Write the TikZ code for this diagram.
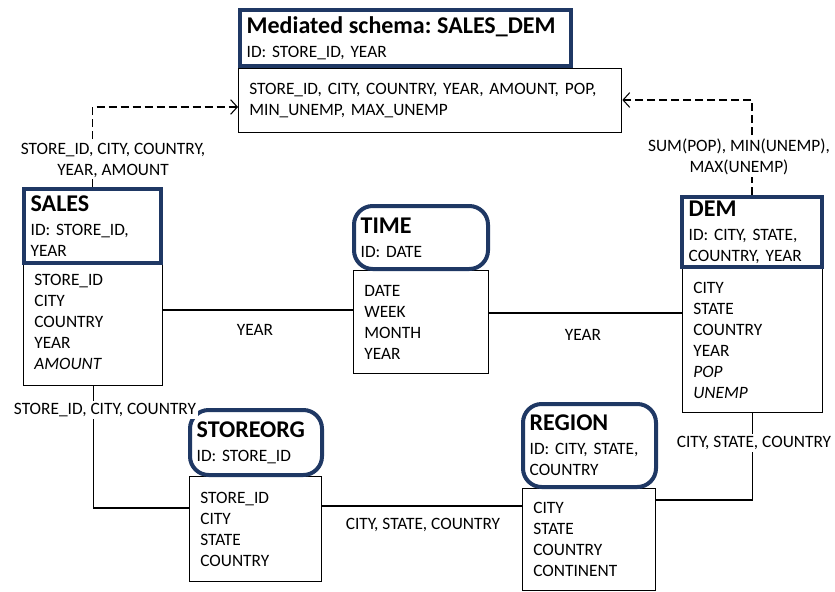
\documentclass[tikz,border=0pt]{standalone}
\usepackage{fontspec}
\setmainfont{Carlito}
\usetikzlibrary{arrows.meta}
\definecolor{hdrblue}{RGB}{31,56,100}
\tikzset{
  hdr/.style={draw=hdrblue, fill=white, line width=3pt, anchor=north west, align=left, inner xsep=5pt, inner ysep=2pt, font=\fontsize{13}{15.75}\selectfont\frenchspacing},
  hdrround/.style={hdr, rounded corners=14pt},
  attrs/.style={draw, line width=1pt, anchor=north west, align=left, inner xsep=8pt, inner ysep=2pt, font=\fontsize{13}{15.75}\selectfont\frenchspacing},
  link/.style={line width=0.8pt},
  mapping/.style={line width=0.8pt, dash pattern=on 6pt off 3pt, -{Straight Barb[length=5pt,width=11pt]}},
  lbl/.style={font=\fontsize{13}{15.75}\selectfont\frenchspacing, align=center, inner sep=1.5pt},
  cutlbl/.style={lbl, fill=white}
}
\newcommand{\tblname}[1]{{\fontsize{18}{20}\selectfont\bfseries #1}}
\begin{document}
\begin{tikzpicture}[x=0.75pt, y=-0.75pt]
\useasboundingbox (0,0) rectangle (835,592);

\node[attrs, text width=271.25pt, minimum height=48pt] (medbody) at (238,68) {STORE\_ID, CITY, COUNTRY, YEAR, AMOUNT, POP,\\MIN\_UNEMP, MAX\_UNEMP};
\node[hdr, text width=238.25pt, minimum height=42pt] (medhdr) at (238,8) {\tblname{Mediated schema: SALES\_DEM}\\[2pt]ID: STORE\_ID, YEAR};

\node[attrs, text width=88.25pt, minimum height=96pt] (salesbody) at (23,257) {STORE\_ID\\CITY\\COUNTRY\\YEAR\\\textit{AMOUNT}};
\node[hdr, text width=92.75pt, minimum height=55.5pt] (saleshdr) at (22,187) {\tblname{SALES}\\[2pt]ID: STORE\_ID,\\YEAR};

\node[attrs, text width=85.25pt, minimum height=77.25pt] (timebody) at (353,270) {DATE\\WEEK\\MONTH\\YEAR};
\node[hdrround, text width=90.5pt, minimum height=47.25pt] (timehdr) at (352,204) {\tblname{TIME}\\[2pt]ID: DATE};

\node[attrs, text width=89pt, minimum height=108pt] (dembody) at (682,268) {CITY\\STATE\\COUNTRY\\YEAR\\\textit{POP}\\\textit{UNEMP}};
\node[hdr, text width=95pt, minimum height=52.5pt] (demhdr) at (680,195) {\tblname{DEM}\\[2pt]ID: CITY, STATE,\\COUNTRY, YEAR};

\node[attrs, text width=83pt, minimum height=78.75pt] (storebody) at (189,476) {STORE\_ID\\CITY\\STATE\\COUNTRY};
\node[hdrround, text width=89pt, minimum height=48.75pt] (storehdr) at (188,408) {\tblname{STOREORG}\\[2pt]ID: STORE\_ID};

\node[attrs, text width=83.75pt, minimum height=76.5pt] (regbody) at (522,488) {CITY\\STATE\\COUNTRY\\CONTINENT};
\node[hdrround, text width=89.75pt, minimum height=62.25pt] (reghdr) at (521,402) {\tblname{REGION}\\[2pt]ID: CITY, STATE,\\COUNTRY};

\coordinate (salesmap) at (0,107);
\coordinate (demmap) at (0,100);
\coordinate (timeleft) at (0,310);
\coordinate (timeright) at (0,313);
\coordinate (storeleft) at (0,508);
\coordinate (storeright) at (0,506);
\coordinate (regright) at (0,500);

\draw[mapping] (saleshdr.north) |- (medbody.west |- salesmap);
\draw[mapping] (demhdr.north) |- (medbody.east |- demmap);
\draw[link] (salesbody.east |- timeleft) -- (timebody.west |- timeleft);
\draw[link] (timebody.east |- timeright) -- (dembody.west |- timeright);
\draw[link] (salesbody.south) |- (storebody.west |- storeleft);
\draw[link] (storebody.east |- storeright) -- (regbody.west |- storeright);
\draw[link] (regbody.east |- regright) -| (dembody.south);

\node[cutlbl] (salesmaplbl) at (113,160) {STORE\_ID, CITY, COUNTRY,\\YEAR, AMOUNT};
\node[cutlbl] (demmaplbl) at (739,157) {SUM(POP), MIN(UNEMP),\\MAX(UNEMP)};
\node[lbl] (yearlbla) at (255,330) {YEAR};
\node[lbl] (yearlblb) at (583,335) {YEAR};
\node[cutlbl] (storelbl) at (105,410) {STORE\_ID, CITY, COUNTRY};
\node[lbl] (regionlbl) at (423,525) {CITY, STATE, COUNTRY};
\node[cutlbl] (demlbl) at (754,443) {CITY, STATE, COUNTRY};
\end{tikzpicture}
\end{document}
